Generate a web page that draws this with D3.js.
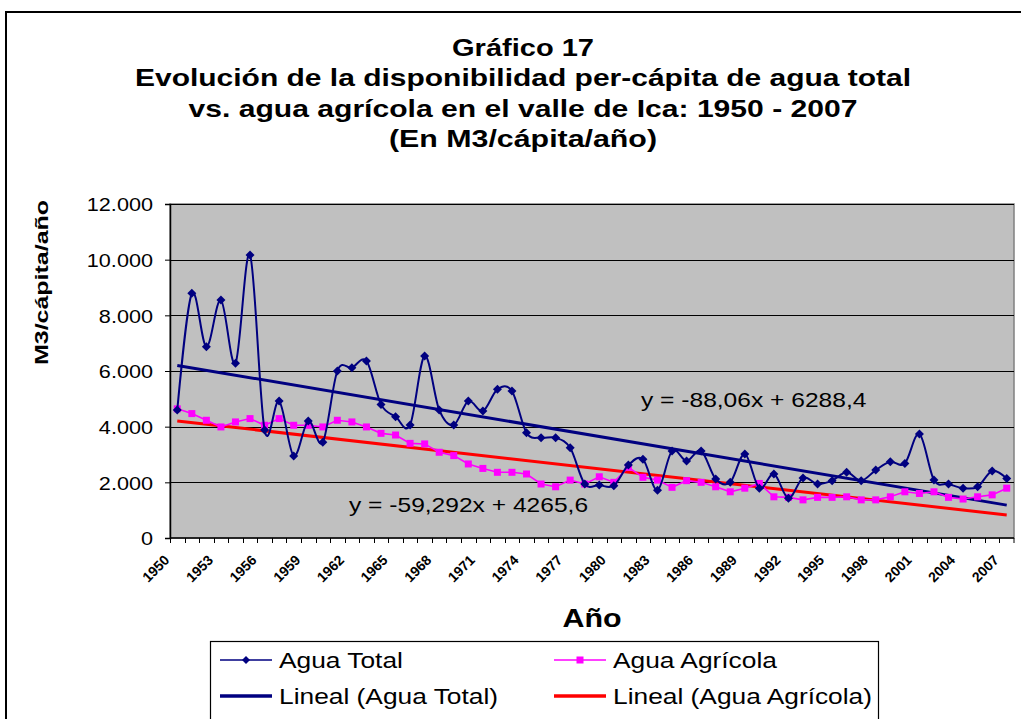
<!DOCTYPE html>
<html lang="es">
<head>
<meta charset="UTF-8">
<title>Gráfico 17</title>
<script src="https://d3js.org/d3.v7.min.js"></script>
<style>
  body { margin: 0; background: #fff; }
  svg { display: block; font-family: "Liberation Sans", Arial, sans-serif; }
</style>
</head>
<body>
<div class="chart"></div>
<script>
// años 1950 - 2007
const years = [1950, 1951, 1952, 1953, 1954, 1955, 1956, 1957, 1958, 1959,
               1960, 1961, 1962, 1963, 1964, 1965, 1966, 1967, 1968, 1969,
               1970, 1971, 1972, 1973, 1974, 1975, 1976, 1977, 1978, 1979,
               1980, 1981, 1982, 1983, 1984, 1985, 1986, 1987, 1988, 1989,
               1990, 1991, 1992, 1993, 1994, 1995, 1996, 1997, 1998, 1999,
               2000, 2001, 2002, 2003, 2004, 2005, 2006, 2007]

// M3/cápita/año
const aguaTotal = [4600, 8790, 6870, 8550, 6280, 10170, 3880, 4920, 2950, 4200,
                   3440, 6000, 6120, 6360, 4800, 4360, 4060, 6540, 4600, 4060,
                   4920, 4560, 5340, 5280, 3780, 3600, 3600, 3240, 1940, 1900,
                   1880, 2620, 2830, 1720, 3130, 2770, 3130, 2120, 2000, 3020,
                   1790, 2300, 1430, 2160, 1940, 2060, 2360, 2060, 2440, 2740,
                   2680, 3740, 2080, 1940, 1790, 1840, 2410, 2140]

const aguaAgricola = [4640, 4470, 4230, 3990, 4170, 4290, 4050, 4290, 4050, 4050,
                      3990, 4230, 4170, 3990, 3760, 3700, 3400, 3380, 3080, 2960,
                      2660, 2500, 2360, 2360, 2300, 1940, 1840, 2080, 1940, 2200,
                      2000, 2540, 2180, 2080, 1820, 2060, 2000, 1840, 1660, 1790,
                      1960, 1480, 1460, 1370, 1460, 1460, 1480, 1370, 1370, 1480,
                      1660, 1600, 1660, 1460, 1400, 1480, 1550, 1790]

// líneas de tendencia (y = a*x + b, x = 1..58)
const trendTotal = [-88.06, 6288.4]
const trendAgricola = [-59.292, 4265.6]

const yTicks = [0, 2000, 4000, 6000, 8000, 10000, 12000]
const xLabelYears = [1950, 1953, 1956, 1959, 1962, 1965, 1968, 1971, 1974, 1977,
                     1980, 1983, 1986, 1989, 1992, 1995, 1998, 2001, 2004, 2007]

const titleLines = ['Gráfico 17',
                    'Evolución de la disponibilidad per-cápita de agua total',
                    'vs. agua agrícola en el valle de Ica: 1950 - 2007',
                    '(En M3/cápita/año)']

const W = 1021, H = 719
const plot = {left: 170, right: 1014, top: 204, bottom: 538}
const NAVY = '#000080', PINK = '#FF00FF', RED = '#FF0000'

// texto algo ensanchado, como en el original
function widen(sel, k) {
  sel.each(function () {
    const w = this.getComputedTextLength()
    d3.select(this).attr('textLength', w * k).attr('lengthAdjust', 'spacingAndGlyphs')
  })
}

const svg = d3.select('.chart').append('svg')
  .attr('width', W).attr('height', H)

// marco exterior
svg.append('rect')
  .attr('x', 6).attr('y', 12).attr('width', 1040).attr('height', 740)
  .attr('fill', '#fff').attr('stroke', '#000').attr('stroke-width', 2)

// título
const titleY = [56, 86, 117, 147]
const titleW = [142, 776, 669, 268]
svg.append('g').selectAll('text')
  .data(titleLines)
  .join('text')
  .attr('x', 523)
  .attr('y', (d, i) => titleY[i])
  .attr('text-anchor', 'middle')
  .style('font-size', '24px')
  .style('font-weight', 'bold')
  .attr('textLength', (d, i) => titleW[i])
  .attr('lengthAdjust', 'spacingAndGlyphs')
  .text(d => d)

// escalas
const xScale = d3.scaleBand()
  .domain(years)
  .range([plot.left, plot.right])
const cx = d => xScale(d) + xScale.bandwidth() / 2

const yScale = d3.scaleLinear()
  .domain([0, 12000])
  .range([plot.bottom, plot.top])

// área de trazado
svg.append('rect')
  .attr('x', plot.left).attr('y', plot.top)
  .attr('width', plot.right - plot.left).attr('height', plot.bottom - plot.top)
  .attr('fill', '#C0C0C0').attr('stroke', '#808080').attr('stroke-width', 1.5)

// líneas de división
svg.append('g').selectAll('line')
  .data(yTicks.slice(1))
  .join('line')
  .attr('x1', plot.left).attr('x2', plot.right)
  .attr('y1', d => Math.round(yScale(d)) + 0.5).attr('y2', d => Math.round(yScale(d)) + 0.5)
  .attr('stroke', '#000').attr('stroke-width', 1)

// eje Y
const es = d3.formatLocale({decimal: ',', thousands: '.', grouping: [3], currency: ['', '']})
const yAxis = d3.axisLeft(yScale)
  .tickValues(yTicks)
  .tickSize(5)
  .tickPadding(12)
  .tickFormat(es.format(','))
const yAxisG = svg.append('g')
  .attr('transform', `translate(${plot.left},0)`)
  .call(yAxis)
yAxisG.select('.domain').attr('stroke', '#000').attr('stroke-width', 1.5)
yAxisG.selectAll('text')
  .style('font-size', '18.5px')
  .style('font-family', '"Liberation Sans", Arial, sans-serif')
  .attr('fill', '#000')
  .attr('dy', '0.36em')
  .call(widen, 1.17)

// eje X
const xAxisG = svg.append('g')
xAxisG.append('line')
  .attr('x1', plot.left).attr('x2', plot.right)
  .attr('y1', plot.bottom).attr('y2', plot.bottom)
  .attr('stroke', '#000').attr('stroke-width', 1.5)
xAxisG.selectAll('.tick')
  .data(years.concat(['end']))
  .join('line')
  .attr('class', 'tick')
  .attr('x1', d => d === 'end' ? plot.right : Math.round(xScale(d)) + 0.5)
  .attr('x2', d => d === 'end' ? plot.right : Math.round(xScale(d)) + 0.5)
  .attr('y1', plot.bottom).attr('y2', plot.bottom + 5)
  .attr('stroke', '#000')
xAxisG.selectAll('text')
  .data(xLabelYears)
  .join('text')
  .attr('transform', d => `translate(${cx(d) - 7},${plot.bottom + 23}) rotate(-45)`)
  .attr('text-anchor', 'end')
  .style('font-size', '14px')
  .style('font-weight', 'bold')
  .text(d => d)

// títulos de ejes
svg.append('text')
  .attr('transform', `translate(48,${(200 + 365) / 2}) rotate(-90)`)
  .attr('text-anchor', 'middle')
  .style('font-size', '19px')
  .style('font-weight', 'bold')
  .attr('textLength', 165).attr('lengthAdjust', 'spacingAndGlyphs')
  .text('M3/cápita/año')

svg.append('text')
  .attr('x', (plot.left + plot.right) / 2)
  .attr('y', 627)
  .attr('text-anchor', 'middle')
  .style('font-size', '26px')
  .style('font-weight', 'bold')
  .text('Año')
  .call(widen, 1.17)

// tendencias
const trendPts = (t) => [0, years.length - 1].map(i => [cx(years[i]), yScale(t[0] * (i + 1) + t[1])])
svg.append('path')
  .attr('d', d3.line()(trendPts(trendTotal)))
  .attr('fill', 'none').attr('stroke', NAVY).attr('stroke-width', 3)
svg.append('path')
  .attr('d', d3.line()(trendPts(trendAgricola)))
  .attr('fill', 'none').attr('stroke', RED).attr('stroke-width', 3)

// series
const lineTotal = d3.line()
  .x((d, i) => cx(years[i]))
  .y(d => yScale(d))
  .curve(d3.curveCardinal.tension(0))
const lineAgri = d3.line()
  .x((d, i) => cx(years[i]))
  .y(d => yScale(d))

svg.append('path')
  .attr('d', lineAgri(aguaAgricola))
  .attr('fill', 'none').attr('stroke', PINK).attr('stroke-width', 1.6)
svg.append('g').selectAll('rect')
  .data(aguaAgricola)
  .join('rect')
  .attr('x', (d, i) => cx(years[i]) - 3.5)
  .attr('y', d => yScale(d) - 3.5)
  .attr('width', 7).attr('height', 7)
  .attr('fill', PINK)

svg.append('path')
  .attr('d', lineTotal(aguaTotal))
  .attr('fill', 'none').attr('stroke', NAVY).attr('stroke-width', 2)
const diamond = 'M0,-4.5L4.5,0L0,4.5L-4.5,0Z'
svg.append('g').selectAll('path')
  .data(aguaTotal)
  .join('path')
  .attr('transform', (d, i) => `translate(${cx(years[i])},${yScale(d)})`)
  .attr('d', diamond)
  .attr('fill', NAVY)

// ecuaciones
svg.append('text')
  .attr('x', 641).attr('y', 407)
  .style('font-size', '21px')
  .text('y = -88,06x + 6288,4')
  .call(widen, 1.17)
svg.append('text')
  .attr('x', 349).attr('y', 512)
  .style('font-size', '21px')
  .text('y = -59,292x + 4265,6')
  .call(widen, 1.17)

// leyenda
const legend = svg.append('g')
legend.append('rect')
  .attr('x', 210.5).attr('y', 641.5).attr('width', 668).attr('height', 100)
  .attr('fill', '#fff').attr('stroke', '#000').attr('stroke-width', 1.2)

const legendItems = [
  {name: 'Agua Total', color: NAVY, width: 1.5, marker: 'diamond', x: 220, y: 660},
  {name: 'Agua Agrícola', color: PINK, width: 1.5, marker: 'square', x: 554, y: 660},
  {name: 'Lineal (Agua Total)', color: NAVY, width: 3.5, marker: null, x: 220, y: 696},
  {name: 'Lineal (Agua Agrícola)', color: RED, width: 3.5, marker: null, x: 554, y: 696}
]
const li = legend.selectAll('g.item')
  .data(legendItems)
  .join('g')
  .attr('class', 'item')
  .attr('transform', d => `translate(${d.x},${d.y})`)
li.append('line')
  .attr('x1', 0).attr('x2', 52).attr('y1', 0).attr('y2', 0)
  .attr('stroke', d => d.color).attr('stroke-width', d => d.width)
li.filter(d => d.marker === 'diamond').append('path')
  .attr('transform', 'translate(26,0)')
  .attr('d', 'M0,-4L4,0L0,4L-4,0Z')
  .attr('fill', NAVY)
li.filter(d => d.marker === 'square').append('rect')
  .attr('x', 22.5).attr('y', -3.5).attr('width', 7).attr('height', 7)
  .attr('fill', PINK)
li.append('text')
  .attr('x', 59).attr('y', 8)
  .style('font-size', '22.5px')
  .text(d => d.name)
  .call(widen, 1.17)
</script>
</body>
</html>
